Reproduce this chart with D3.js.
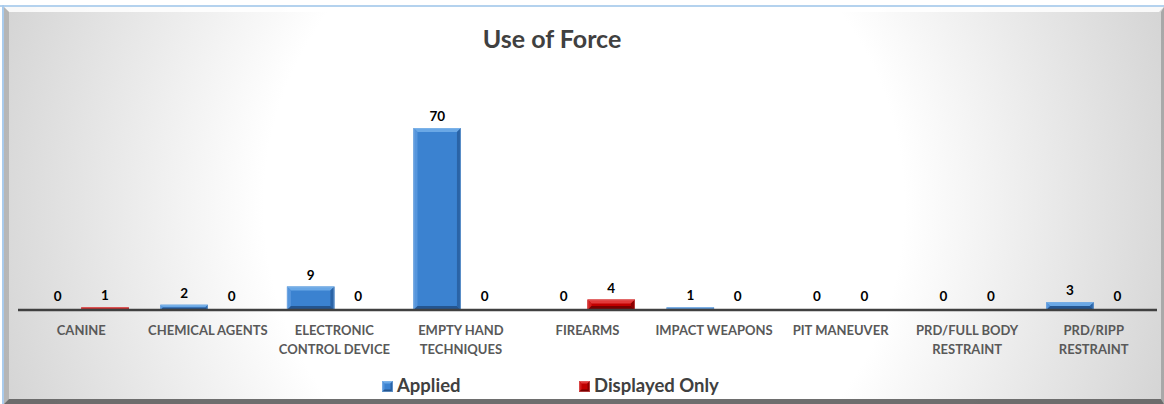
<!DOCTYPE html>
<html>
<head>
<meta charset="utf-8">
<script src="https://cdn.jsdelivr.net/npm/d3@7"></script>
<style>
  html, body { margin: 0; padding: 0; background: #ffffff; }
  svg { display: block; }
</style>
</head>
<body>
<svg id="chart" width="1164" height="404"></svg>
<script>
// Use of Force counts by technique
const categories = [
  "CANINE",
  "CHEMICAL AGENTS",
  "ELECTRONIC\nCONTROL DEVICE",
  "EMPTY HAND\nTECHNIQUES",
  "FIREARMS",
  "IMPACT WEAPONS",
  "PIT MANEUVER",
  "PRD/FULL BODY\nRESTRAINT",
  "PRD/RIPP\nRESTRAINT"
];
const seriesNames = ["Applied", "Displayed Only"];
const appliedValues = [0, 2, 9, 70, 0, 1, 0, 0, 3];
const displayedOnlyValues = [1, 0, 0, 0, 4, 0, 0, 0, 0];
const chartTitle = "Use of Force";

const W = 1164, H = 404;
const FONT = "Lato, 'Open Sans', sans-serif";
const svg = d3.select("#chart");
const defs = svg.append("defs");

// Background: circular gradient, white centre fading to grey corners
const bg = defs.append("radialGradient")
  .attr("id", "bgGrad")
  .attr("gradientUnits", "userSpaceOnUse")
  .attr("cx", 584).attr("cy", 205).attr("r", 640);
bg.append("stop").attr("offset", 0).attr("stop-color", "#ffffff");
bg.append("stop").attr("offset", 0.5).attr("stop-color", "#ffffff");
bg.append("stop").attr("offset", 1).attr("stop-color", "#d0d0d0");

// Thin blue window lines (top and left)
svg.append("rect").attr("x", 0).attr("y", 5).attr("width", W).attr("height", 2).attr("fill", "#b4d2ee");
svg.append("rect").attr("x", 2).attr("y", 5).attr("width", 2).attr("height", H - 5).attr("fill", "#a9cbed");

// Chart area with bevelled frame
const fx = 4, fy = 7, fw = W - 4, fh = H - 7;
svg.append("rect").attr("x", fx).attr("y", fy).attr("width", fw).attr("height", fh).attr("fill", "url(#bgGrad)");
const fb = 5;
function poly(points, fill, opacity) {
  svg.append("polygon")
    .attr("points", points.map(p => p.join(",")).join(" "))
    .attr("fill", fill).attr("fill-opacity", opacity == null ? 1 : opacity);
}
poly([[fx, fy], [fx + fw, fy], [fx + fw - fb, fy + fb], [fx + fb, fy + fb]], "#ffffff", 0.85);
poly([[fx, fy], [fx + fb, fy + fb], [fx + fb, fy + fh - fb], [fx, fy + fh]], "#9a9a9a", 0.55);
poly([[fx + fw, fy], [fx + fw, fy + fh], [fx + fw - 3, fy + fh - fb], [fx + fw - 3, fy + fb]], "#8a8a8a", 0.6);
poly([[fx, fy + fh], [fx + fw, fy + fh], [fx + fw - 3, fy + fh - fb], [fx + fb, fy + fh - fb]], "#666666", 0.95);

// Title
svg.append("text")
  .attr("x", 552).attr("y", 48)
  .attr("text-anchor", "middle")
  .attr("font-family", FONT).attr("font-weight", 700).attr("font-size", 25)
  .attr("fill", "#404040")
  .text(chartTitle);

// Scales
const axisY = 310;
const x0 = d3.scaleBand().domain(categories).range([18, 1157]).paddingInner(0).paddingOuter(0);
const x1 = d3.scaleBand().domain(seriesNames).range([0, x0.bandwidth()]).paddingInner(0).paddingOuter(1 / 3);
const y = d3.scaleLinear().domain([0, 80]).range([axisY, axisY - 208]);

const palette = {
  "Applied": { main: "#3b82d0", top: "#6aa8e6", left: "#5595dc", right: "#2a63a6", bottom: "#24558f", edge: "#8dbbe9" },
  "Displayed Only": { main: "#c00000", top: "#e23a3a", left: "#d21c1c", right: "#8c0000", bottom: "#760000", edge: "#e07070" }
};

function bevelRect(g, bx, by, bw, bh, c, maxB) {
  if (bh <= 0) return;
  const b = Math.min(maxB, bh / 2, bw / 2);
  g.append("rect").attr("x", bx).attr("y", by).attr("width", bw).attr("height", bh).attr("fill", c.main);
  const pts = (arr) => arr.map(p => p.join(",")).join(" ");
  g.append("polygon").attr("points", pts([[bx, by], [bx + bw, by], [bx + bw - b, by + b], [bx + b, by + b]])).attr("fill", c.top);
  g.append("polygon").attr("points", pts([[bx, by], [bx + b, by + b], [bx + b, by + bh - b], [bx, by + bh]])).attr("fill", c.left);
  g.append("polygon").attr("points", pts([[bx + bw, by], [bx + bw, by + bh], [bx + bw - b, by + bh - b], [bx + bw - b, by + b]])).attr("fill", c.right);
  g.append("polygon").attr("points", pts([[bx, by + bh], [bx + bw, by + bh], [bx + bw - b, by + bh - b], [bx + b, by + bh - b]])).attr("fill", c.bottom);
  g.append("rect").attr("x", bx + 0.5).attr("y", by + 0.5).attr("width", Math.max(bw - 1, 0)).attr("height", Math.max(bh - 1, 0))
    .attr("fill", "none").attr("stroke", c.edge).attr("stroke-width", 1).attr("stroke-opacity", 0.5);
}

const rows = categories.map((cat, i) => ({
  cat,
  vals: [
    { name: "Applied", value: appliedValues[i] },
    { name: "Displayed Only", value: displayedOnlyValues[i] }
  ]
}));

const barsG = svg.append("g");
rows.forEach(r => {
  r.vals.forEach(v => {
    const bx = x0(r.cat) + x1(v.name);
    const by = y(v.value);
    bevelRect(barsG, bx, by, x1.bandwidth(), axisY - by, palette[v.name], 4);
  });
});

// Category axis line
svg.append("line")
  .attr("x1", 18).attr("x2", 1157).attr("y1", axisY).attr("y2", axisY)
  .attr("stroke", "#404040").attr("stroke-width", 2.5);

// Value labels
const labelsG = svg.append("g")
  .attr("font-family", FONT).attr("font-weight", 700).attr("font-size", 13.5)
  .attr("fill", "#000000").attr("text-anchor", "middle");
rows.forEach(r => {
  r.vals.forEach(v => {
    labelsG.append("text")
      .attr("x", x0(r.cat) + x1(v.name) + x1.bandwidth() / 2)
      .attr("y", y(v.value) - (v.value === 0 ? 9 : 7))
      .text(v.value);
  });
});

// Category tick labels
const tickG = svg.append("g")
  .attr("font-family", FONT).attr("font-weight", 700).attr("font-size", 13)
  .attr("fill", "#595959").attr("text-anchor", "middle");
categories.forEach(cat => {
  const t = tickG.append("text").attr("x", x0(cat) + x0.bandwidth() / 2).attr("y", 335);
  cat.split("\n").forEach((line, k) => {
    t.append("tspan").attr("x", x0(cat) + x0.bandwidth() / 2).attr("dy", k === 0 ? 0 : 18.5).text(line);
  });
});

// Legend
const legendItems = [
  { name: "Applied", x: 382 },
  { name: "Displayed Only", x: 579 }
];
const legG = svg.append("g");
legendItems.forEach(item => {
  bevelRect(legG, item.x, 381, 11, 11, palette[item.name], 2.5);
  legG.append("text")
    .attr("x", item.x + 15).attr("y", 392)
    .attr("font-family", FONT).attr("font-weight", 700).attr("font-size", 18.5)
    .attr("fill", "#404040")
    .text(item.name);
});
</script>
</body>
</html>
